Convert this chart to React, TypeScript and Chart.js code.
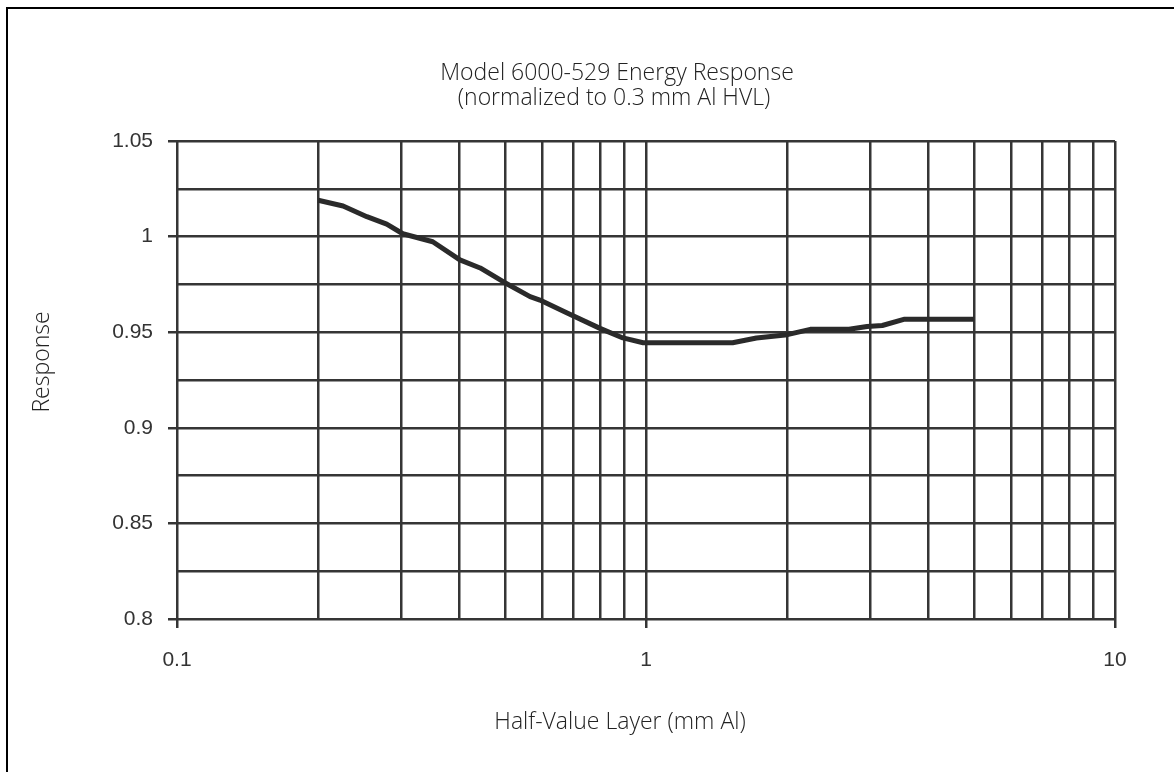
import React, { useEffect, useRef } from "react";
import { Chart, registerables } from "chart.js";

Chart.register(...registerables);

const TITLE_LINES = ["Model 6000-529 Energy Response", "(normalized to 0.3 mm Al HVL)"];
const X_TITLE = "Half-Value Layer (mm Al)";
const Y_TITLE = "Response";

const HVL = [0.2, 0.226, 0.254, 0.28, 0.303, 0.351, 0.401, 0.443, 0.496, 0.566, 0.594, 0.679, 0.798, 0.893, 0.986, 1.53, 1.72, 1.98, 2.24, 2.71, 2.96, 3.19, 3.56, 5.0];
const RESPONSE = [1.019, 1.016, 1.0104, 1.0065, 1.0015, 0.9973, 0.9878, 0.9836, 0.9764, 0.9686, 0.9668, 0.96, 0.952, 0.947, 0.9445, 0.9445, 0.947, 0.9485, 0.9515, 0.9515, 0.953, 0.9535, 0.9568, 0.9568];

const X_GRID = [0.1, 0.2, 0.3, 0.4, 0.5, 0.6, 0.7, 0.8, 0.9, 1, 2, 3, 4, 5, 6, 7, 8, 9, 10];
const X_LABELS = [0.1, 1, 10];
const Y_GRID = [0.8, 0.825, 0.85, 0.875, 0.9, 0.925, 0.95, 0.975, 1.0, 1.025, 1.05];
const Y_LABELS = [0.8, 0.85, 0.9, 0.95, 1.0, 1.05];

const GRID_COLOR = "#353535";
const LINE_COLOR = "#2a2a2a";

const isIn = (arr: number[], v: number) => arr.some((a) => Math.abs(a - v) < 1e-6);

const decorPlugin = {
  id: "decor",
  afterDraw(chart: any) {
    const ctx = chart.ctx;
    ctx.save();
    // page frame
    ctx.strokeStyle = "#000";
    ctx.lineWidth = 2;
    ctx.beginPath();
    ctx.moveTo(7, 772);
    ctx.lineTo(7, 8);
    ctx.lineTo(1174, 8);
    ctx.stroke();

    ctx.fillStyle = "#222";
    ctx.font = '300 23px "Open Sans"';
    ctx.textAlign = "center";
    ctx.textBaseline = "middle";
    ctx.fillText(TITLE_LINES[0], 617, 73);
    ctx.fillText(TITLE_LINES[1], 614, 98);
    ctx.fillText(X_TITLE, 620, 722);
    ctx.translate(42, 362);
    ctx.rotate(-Math.PI / 2);
    ctx.fillText(Y_TITLE, 0, 0);
    ctx.restore();
  },
};

export default function App() {
  const ref = useRef<HTMLCanvasElement | null>(null);
  useEffect(() => {
    document.body.style.margin = "0";
    const canvas = ref.current!;
    const chart = new Chart(canvas, {
      type: "line",
      data: {
        datasets: [
          {
            data: HVL.map((x, i) => ({ x, y: RESPONSE[i] })),
            borderColor: LINE_COLOR,
            borderWidth: 5,
            pointRadius: 0,
            tension: 0,
            borderJoinStyle: "round",
            borderCapStyle: "butt",
            fill: false,
          },
        ],
      },
      options: {
        responsive: false,
        animation: false,
        layout: { padding: { top: 141, right: 59, bottom: 0, left: 0 } },
        plugins: { legend: { display: false }, title: { display: false }, tooltip: { enabled: false } },
        scales: {
          x: {
            type: "logarithmic",
            min: 0.1,
            max: 10,
            afterBuildTicks: (scale: any) => {
              scale.ticks = X_GRID.map((v) => ({ value: v }));
            },
            afterFit: (scale: any) => {
              scale.height = 153;
            },
            ticks: {
              autoSkip: false,
              maxRotation: 0,
              padding: 20,
              color: "#333",
              font: { family: '"Liberation Sans", Arial, sans-serif', size: 21 },
              callback: (v: any) => (isIn(X_LABELS, Number(v)) ? String(Number(v)) : ""),
            },
            grid: {
              color: GRID_COLOR,
              lineWidth: 2.5,
              tickLength: 9,
              tickColor: (c: any) => (c.tick && isIn(X_LABELS, c.tick.value) ? GRID_COLOR : "rgba(0,0,0,0)"),
            },
            border: { display: false },
          },
          y: {
            type: "linear",
            min: 0.8,
            max: 1.05,
            afterBuildTicks: (scale: any) => {
              scale.ticks = Y_GRID.map((v) => ({ value: v }));
            },
            afterFit: (scale: any) => {
              scale.width = 177;
            },
            ticks: {
              autoSkip: false,
              padding: 15,
              color: "#333",
              font: { family: '"Liberation Sans", Arial, sans-serif', size: 21 },
              callback: (v: any) => (isIn(Y_LABELS, Number(v)) ? String(Number(Number(v).toFixed(3))) : ""),
            },
            grid: {
              color: GRID_COLOR,
              lineWidth: 2.5,
              tickLength: 9,
              tickColor: (c: any) => (c.tick && isIn(Y_LABELS, c.tick.value) ? GRID_COLOR : "rgba(0,0,0,0)"),
            },
            border: { display: false },
          },
        },
      },
      plugins: [decorPlugin],
    } as any);
    return () => chart.destroy();
  }, []);
  return (
    <div style={{ position: "absolute", left: 0, top: 0, width: 1174, height: 772, background: "#fff" }}>
      <canvas ref={ref} width={1174} height={772} style={{ display: "block" }} />
    </div>
  );
}
